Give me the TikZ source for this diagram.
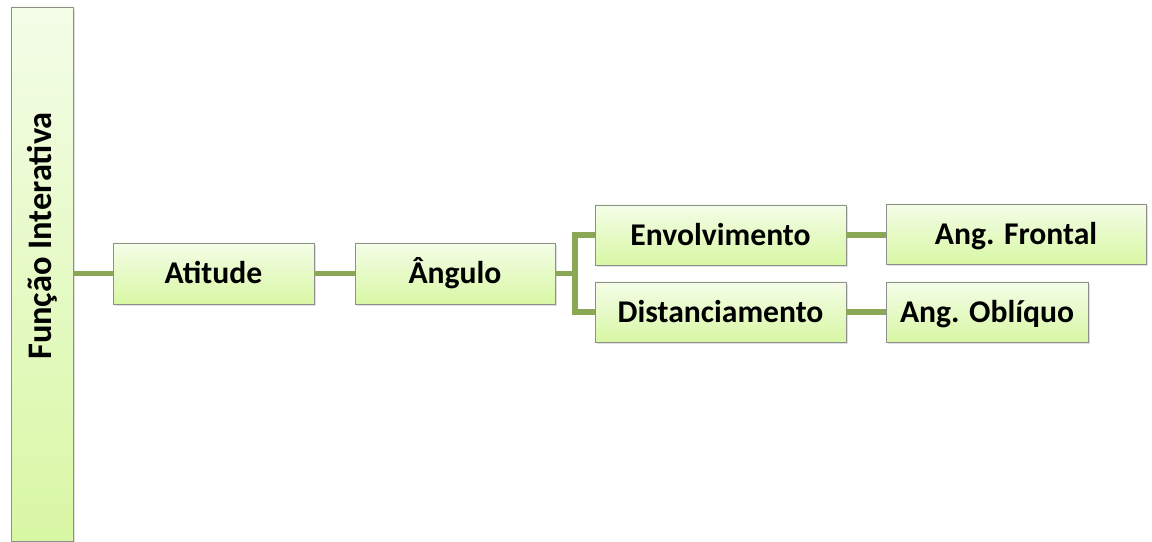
\documentclass[tikz,border=0pt]{standalone}
\usepackage{xcolor}
\usepackage{fontspec}
\setmainfont{Carlito}
\usepackage{tikz}
\usetikzlibrary{shadows}
\definecolor{boxtop}{HTML}{F4FDE8}
\definecolor{boxbot}{HTML}{D8F7A4}
\definecolor{boxedge}{HTML}{8E8E8E}
\definecolor{linkcolor}{HTML}{8BA756}

\begin{document}
\begin{tikzpicture}[
  blk/.style={draw=boxedge, line width=0.6pt, rectangle, top color=boxtop, bottom color=boxbot,
    minimum height=1.5cm, inner sep=0pt, text height=19pt, text depth=4.5pt,
    drop shadow={opacity=0.25, shadow xshift=0.04cm, shadow yshift=-0.05cm},
    font=\fontsize{22.5pt}{27pt}\selectfont\bfseries},
  lnk/.style={draw=linkcolor, line width=3.6pt}]%
\useasboundingbox (0,0) rectangle (28.8,13.55);%
\node[blk, minimum width=1.55cm, minimum height=13.35cm] (fi) at (1.05, 6.7) {};%
\node[rotate=90, font=\fontsize{24.5pt}{29pt}\selectfont\bfseries] (fitxt) at (1.05, 7.65) {Função Interativa};%
\node[blk, minimum width=5.025cm, minimum height=1.525cm] (atit) at (5.3375, 6.7125) {Atitude};%
\node[blk, minimum width=5.0cm, minimum height=1.525cm] (ang) at (11.375, 6.7125) {Ângulo};%
\node[blk, minimum width=6.275cm] (env) at (18.0125, 7.675) {Envolvimento};%
\node[blk, minimum width=6.275cm] (dist) at (18.0125, 5.75) {Distanciamento};%
\node[blk, minimum width=6.5cm] (front) at (25.4, 7.7) {Ang. Frontal};%
\node[blk, minimum width=5.05cm] (obliq) at (24.675, 5.75) {Ang. Oblíquo};%
\coordinate (fork) at (14.375, 6.7125);%
\draw[lnk] (fi.east |- atit.west) -- (atit.west);%
\draw[lnk] (atit.east) -- (ang.west);%
\draw[lnk] (ang.east) -- (fork);%
\draw[lnk] (fork) |- (env.west);%
\draw[lnk] (fork) |- (dist.west);%
\draw[lnk] (env.east) -- (env.east -| front.west);%
\draw[lnk] (dist.east) -- (obliq.west);%
\end{tikzpicture}
\end{document}
